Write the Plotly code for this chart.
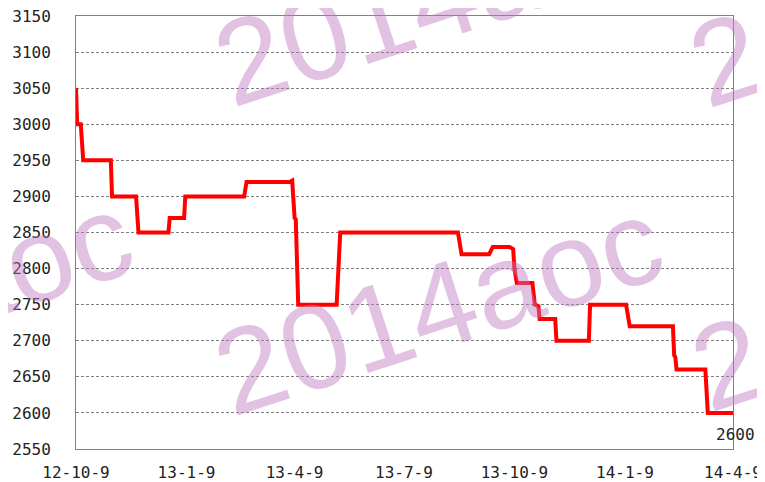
import plotly.graph_objects as go

# ---- data ----
dates = [
    "2012-10-09", "2012-10-10", "2012-10-13", "2012-10-15", "2012-11-07", "2012-11-08",
    "2012-11-28", "2012-11-30", "2012-12-25", "2012-12-26", "2013-01-07", "2013-01-08",
    "2013-02-26", "2013-02-28", "2013-04-05", "2013-04-07", "2013-04-09", "2013-04-10",
    "2013-04-12", "2013-05-14", "2013-05-17", "2013-08-23", "2013-08-26", "2013-09-18",
    "2013-09-21", "2013-10-05", "2013-10-08", "2013-10-09", "2013-10-11", "2013-10-24",
    "2013-10-26", "2013-10-29", "2013-10-30", "2013-11-12", "2013-11-13", "2013-12-10",
    "2013-12-11", "2014-01-10", "2014-01-13", "2014-02-18", "2014-02-19", "2014-02-20",
    "2014-02-21", "2014-03-17", "2014-03-19", "2014-04-09",
]
prices = [
    3050, 3000, 3000, 2950, 2950, 2900,
    2900, 2850, 2850, 2870, 2870, 2900,
    2900, 2920, 2920, 2922, 2870, 2868,
    2750, 2750, 2850, 2850, 2820, 2820,
    2830, 2830, 2827, 2800, 2780, 2780,
    2750, 2748, 2730, 2730, 2700, 2700,
    2750, 2750, 2720, 2720, 2680, 2677,
    2660, 2660, 2600, 2600,
]
x_tick_dates = ["2012-10-09", "2013-01-09", "2013-04-09", "2013-07-09",
                "2013-10-09", "2014-01-09", "2014-04-09"]
x_tick_labels = ["12-10-9", "13-1-9", "13-4-9", "13-7-9", "13-10-9", "14-1-9", "14-4-9"]
y_ticks = [2550, 2600, 2650, 2700, 2750, 2800, 2850, 2900, 2950, 3000, 3050, 3100, 3150]
watermark_text = "2014aoc"

# ---- layout geometry (page has an 8px body margin) ----
OFF = 8
W, H = 765 - OFF, 482 - OFF
L, R, T, B = 76 - OFF, 32, 16 - OFF, 33
PW, PH = W - L - R, H - T - B

def px_to_paper(px, py):
    # px, py: window pixel coordinates
    return (px - OFF - L) / PW, (OFF + H - B - py) / PH

tick_font = dict(family="DejaVu Sans Mono, Liberation Mono, monospace", size=16, color="#222222")

fig = go.Figure()
fig.add_trace(go.Scatter(
    x=dates, y=prices, mode="lines",
    line=dict(color="#ff0000", width=4),
    hoverinfo="skip", showlegend=False, cliponaxis=False,
))

annotations = [
    dict(x=dates[-1], y=prices[-1], xref="x", yref="y", text=str(prices[-1]),
         showarrow=False, yshift=-22, xshift=2, font=tick_font),
]

wm_centers = [(438, -3), (438, 306), (-92, 301), (913, -2), (915, 302)]
for cx, cy in wm_centers:
    ax_, ay_ = px_to_paper(cx, cy)
    annotations.append(dict(
        x=ax_, y=ay_, xref="paper", yref="paper", text=watermark_text,
        showarrow=False, textangle=-18, xanchor="center", yanchor="middle",
        font=dict(family="Liberation Sans, Arial, sans-serif",
                  size=120, color="rgba(190,120,190,0.45)"),
    ))

fig.update_layout(
    width=W, height=H,
    margin=dict(l=L, r=R, t=T, b=B, pad=0),
    paper_bgcolor="white", plot_bgcolor="white",
    showlegend=False,
    annotations=annotations,
    xaxis=dict(
        type="date", range=["2012-10-09", "2014-04-09"],
        tickvals=x_tick_dates, ticktext=x_tick_labels,
        showgrid=False, zeroline=False, automargin=False,
        showline=True, linecolor="#808080", linewidth=1, mirror=True,
        ticks="", ticklabelstandoff=9, tickfont=tick_font,
        ticklabeloverflow="allow",
    ),
    yaxis=dict(
        range=[2550, 3150], tickvals=y_ticks, automargin=False,
        showgrid=True, gridcolor="#808080", gridwidth=1, griddash="3px,2px",
        zeroline=False,
        showline=True, linecolor="#808080", linewidth=1, mirror=True,
        ticks="", ticklabelstandoff=21, tickfont=tick_font,
        ticklabeloverflow="allow",
    ),
)

fig.write_html("out.html")
